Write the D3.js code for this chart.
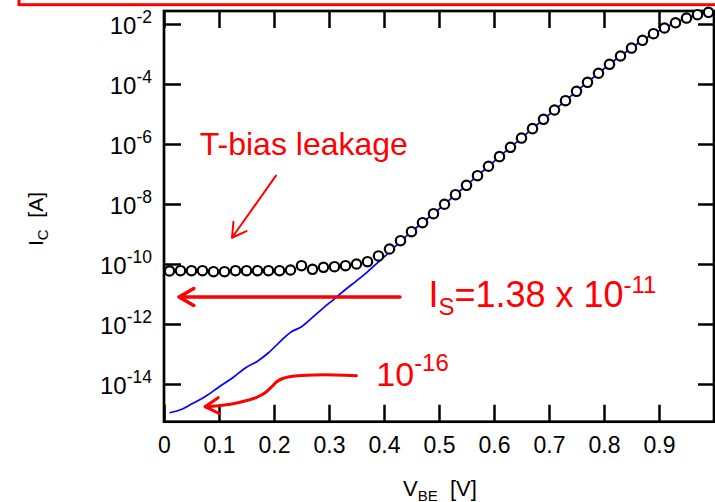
<!DOCTYPE html>
<html>
<head>
<meta charset="utf-8">
<script src="https://cdn.jsdelivr.net/npm/d3@7"></script>
<style>
body { margin: 0; background: #fff; }
text { font-family: "Liberation Sans", Arial, sans-serif; }
</style>
</head>
<body>
<div id="chart"></div>
<script>
// measured Ic (circles), one point every 20 mV
var vbeMeas = [0.01, 0.03, 0.05, 0.07, 0.09, 0.11, 0.13, 0.15, 0.17, 0.19,
               0.21, 0.23, 0.25, 0.27, 0.29, 0.31, 0.33, 0.35, 0.37, 0.39,
               0.41, 0.43, 0.45, 0.47, 0.49, 0.51, 0.53, 0.55, 0.57, 0.59,
               0.61, 0.63, 0.65, 0.67, 0.69, 0.71, 0.73, 0.75, 0.77, 0.79,
               0.81, 0.83, 0.85, 0.87, 0.89, 0.91, 0.93, 0.95, 0.97, 0.99];
var icMeas = [5.85e-11, 5.98e-11, 5.98e-11, 5.98e-11, 5.53e-11, 5.53e-11, 5.98e-11, 5.98e-11, 5.98e-11, 5.98e-11,
              5.98e-11, 6.3e-11, 8.77e-11, 6.65e-11, 7.76e-11, 8.13e-11, 8.77e-11, 1.0e-10, 1.19e-10, 1.85e-10,
              3.16e-10, 5.98e-10, 1.19e-9, 2.38e-9, 4.75e-9, 9.8e-9, 2.04e-8, 4.2e-8, 8.77e-8, 1.81e-7,
              3.78e-7, 7.76e-7, 1.58e-6, 3.24e-6, 6.65e-6, 1.36e-5, 2.77e-5, 5.71e-5, 1.14e-4, 2.28e-4,
              4.54e-4, 8.57e-4, 1.58e-3, 2.86e-3, 4.75e-3, 7.36e-3, 1.10e-2, 1.58e-2, 2.04e-2, 2.45e-2];

// leakage-free curve (blue line)
var vbeFit = [0.01, 0.03, 0.05, 0.075, 0.10, 0.125, 0.15, 0.17, 0.19, 0.215,
              0.23, 0.25, 0.27, 0.29, 0.31, 0.33, 0.35, 0.37, 0.39, 0.41,
              0.43, 0.45, 0.47, 0.49, 0.51, 0.53, 0.55, 0.57, 0.59, 0.61,
              0.63, 0.65, 0.67, 0.69, 0.71, 0.73, 0.75, 0.77, 0.79, 0.81,
              0.83, 0.85, 0.87, 0.89, 0.91, 0.93, 0.95, 0.97, 0.99];
var icFit = [1.10e-15, 1.38e-15, 2.14e-15, 3.80e-15, 7.94e-15, 1.62e-14, 3.63e-14, 5.75e-14, 1.10e-13, 3.02e-13,
             5.25e-13, 8.13e-13, 1.66e-12, 3.47e-12, 6.92e-12, 1.41e-11, 2.75e-11, 5.50e-11, 1.17e-10, 2.51e-10,
             5.62e-10, 1.19e-9, 2.38e-9, 4.75e-9, 9.8e-9, 2.04e-8, 4.2e-8, 8.77e-8, 1.81e-7, 3.78e-7,
             7.76e-7, 1.58e-6, 3.24e-6, 6.65e-6, 1.36e-5, 2.77e-5, 5.71e-5, 1.14e-4, 2.28e-4, 4.54e-4,
             8.57e-4, 1.58e-3, 2.86e-3, 4.75e-3, 7.36e-3, 1.10e-2, 1.58e-2, 2.04e-2, 2.45e-2];

// ticks
var xTicks = [0, 0.1, 0.2, 0.3, 0.4, 0.5, 0.6, 0.7, 0.8, 0.9, 1];
var xTickLabels = ["0", "0.1", "0.2", "0.3", "0.4", "0.5", "0.6", "0.7", "0.8", "0.9", ""];
var yTicks = [1e-2, 1e-4, 1e-6, 1e-8, 1e-10, 1e-12, 1e-14];
var yTickExp = ["-2", "-4", "-6", "-8", "-10", "-12", "-14"];

// curved arrow pointing at the 1e-16 level (V, I)
var arrowCurveV = [0.352, 0.311, 0.2745, 0.238, 0.217, 0.205, 0.196, 0.184, 0.1685, 0.147, 0.123, 0.099, 0.0745];
var arrowCurveI = [1.89e-14, 2.0e-14, 2.0e-14, 1.85e-14, 1.55e-14, 1.19e-14, 8.13e-15, 5.13e-15, 3.6e-15, 2.71e-15, 2.15e-15, 1.89e-15, 1.75e-15];

var W = 715, H = 502;
var RED = "#ff0000";

var svg = d3.select("#chart").append("svg")
    .attr("width", W)
    .attr("height", H);

svg.append("rect").attr("width", W).attr("height", H).attr("fill", "#fff");

var x = d3.scaleLinear().domain([0, 1]).range([164, 714]);
var y = d3.scaleLog().domain([Math.pow(10, -15.257), Math.pow(10, -1.567)]).range([421.7, 11]);

// axes, ticks pointing inwards on all four sides
function styleAxis(g) {
    g.select(".domain").remove();
    g.selectAll(".tick line").attr("stroke", "#000").attr("stroke-width", 2.5);
}

svg.append("g")
    .attr("transform", "translate(0,421.7)")
    .call(d3.axisBottom(x).tickValues(xTicks).tickSize(-17).tickSizeOuter(0).tickPadding(14.5)
        .tickFormat(function(d, i) { return xTickLabels[i]; }))
    .call(styleAxis)
    .call(function(g) {
        g.selectAll(".tick text").attr("font-size", 23).attr("fill", "#000")
            .attr("font-family", "Liberation Sans, Arial, sans-serif");
    });

svg.append("g")
    .attr("transform", "translate(0,11)")
    .call(d3.axisTop(x).tickValues(xTicks).tickSize(-17).tickFormat(""))
    .call(styleAxis);

svg.append("g")
    .attr("transform", "translate(164,0)")
    .call(d3.axisLeft(y).tickValues(yTicks).tickSize(-17).tickFormat(""))
    .call(styleAxis);

svg.append("g")
    .attr("transform", "translate(714,0)")
    .call(d3.axisRight(y).tickValues(yTicks).tickSize(-16).tickFormat(""))
    .call(styleAxis);

// y tick labels as 10^n
yTicks.forEach(function(t, i) {
    var lab = svg.append("text")
        .attr("x", 152)
        .attr("y", y(t) + 10)
        .attr("text-anchor", "end")
        .attr("fill", "#000");
    lab.append("tspan").attr("font-size", 24).text("10");
    lab.append("tspan").attr("font-size", 17.5).attr("dy", -11).text(yTickExp[i]);
});

// frame
svg.append("rect")
    .attr("x", x(0)).attr("y", y.range()[1])
    .attr("width", x(1) - x(0)).attr("height", y.range()[0] - y.range()[1])
    .attr("fill", "none").attr("stroke", "#000").attr("stroke-width", 2.7);

// axis titles
var yt = svg.append("text")
    .attr("transform", "translate(42.5,246) rotate(-90)")
    .attr("text-anchor", "start")
    .attr("font-size", 21)
    .attr("fill", "#000")
    .style("white-space", "pre");
yt.append("tspan").text("I");
yt.append("tspan").attr("font-size", 15).attr("dy", 5).text("C");
yt.append("tspan").attr("dy", -5).text("  [A]");

var xt = svg.append("text")
    .attr("x", 440).attr("y", 496)
    .attr("text-anchor", "middle")
    .attr("font-size", 22)
    .attr("fill", "#000")
    .style("white-space", "pre");
xt.append("tspan").text("V");
xt.append("tspan").attr("font-size", 15).attr("dy", 5).text("BE");
xt.append("tspan").attr("dy", -5).text("  [V]");

// blue line
var fit = vbeFit.map(function(v, i) { return [v, icFit[i]]; });
svg.append("path")
    .datum(fit)
    .attr("fill", "none")
    .attr("stroke", "#0000ff")
    .attr("stroke-width", 1.7)
    .attr("d", d3.line()
        .x(function(d) { return x(d[0]); })
        .y(function(d) { return y(d[1]); })
        .curve(d3.curveMonotoneX));

// circles
var meas = vbeMeas.map(function(v, i) { return [v, icMeas[i]]; });
svg.selectAll("circle.meas").data(meas).enter().append("circle")
    .attr("class", "meas")
    .attr("cx", function(d) { return x(d[0]); })
    .attr("cy", function(d) { return y(d[1]); })
    .attr("r", 4.7)
    .attr("fill", "#fff")
    .attr("stroke", "#000")
    .attr("stroke-width", 2.2);

// ---- red annotations ----
// arrow head: open V, two arms back from the tip
function arrowHead(tx, ty, fx, fy, len, ang) {
    var a = Math.atan2(fy - ty, fx - tx);
    var p1 = [tx + len * Math.cos(a - ang), ty + len * Math.sin(a - ang)];
    var p2 = [tx + len * Math.cos(a + ang), ty + len * Math.sin(a + ang)];
    return "M" + p1 + "L" + tx + "," + ty + "L" + p2;
}

function arrow(v1, i1, v2, i2, w, len) {
    var x1 = x(v1), y1 = y(i1), x2 = x(v2), y2 = y(i2);
    svg.append("path")
        .attr("d", "M" + x1 + "," + y1 + "L" + x2 + "," + y2 + arrowHead(x2, y2, x1, y1, len, Math.PI / 6))
        .attr("fill", "none").attr("stroke", RED).attr("stroke-width", w)
        .attr("stroke-linecap", "round").attr("stroke-linejoin", "round");
}

// frame cut at the top of the page
svg.append("rect")
    .attr("x", 19).attr("y", -30).attr("width", 800).attr("height", 34.7)
    .attr("fill", "none").attr("stroke", RED).attr("stroke-width", 3);

svg.append("text")
    .attr("x", x(0.065)).attr("y", y(4.3e-7))
    .attr("font-size", 32).attr("fill", RED)
    .text("T-bias leakage");
arrow(0.2036, 8.8e-8, 0.1236, 7.5e-10, 2, 16);

arrow(0.429, 7.94e-12, 0.0273, 7.94e-12, 3.5, 17);
var ist = svg.append("text")
    .attr("x", x(0.4807)).attr("y", y(3.78e-12))
    .attr("font-size", 36).attr("fill", RED);
ist.append("tspan").text("I");
ist.append("tspan").attr("font-size", 24).attr("dy", 8).text("S");
ist.append("tspan").attr("dy", -8).text("=1.38 x 10");
ist.append("tspan").attr("font-size", 24).attr("dy", -14).text("-11");

var et = svg.append("text")
    .attr("x", x(0.386)).attr("y", y(8.6e-15))
    .attr("font-size", 34).attr("fill", RED);
et.append("tspan").text("10");
et.append("tspan").attr("font-size", 24).attr("dy", -15).text("-16");

var curvePts = arrowCurveV.map(function(v, i) { return [x(v), y(arrowCurveI[i])]; });
svg.append("path")
    .attr("d", d3.line().curve(d3.curveCatmullRom)(curvePts))
    .attr("fill", "none").attr("stroke", RED).attr("stroke-width", 3);
var n = curvePts.length;
svg.append("path")
    .attr("d", arrowHead(curvePts[n - 1][0], curvePts[n - 1][1], curvePts[n - 2][0], curvePts[n - 2][1], 16, Math.PI / 6))
    .attr("fill", "none").attr("stroke", RED).attr("stroke-width", 3)
    .attr("stroke-linecap", "round").attr("stroke-linejoin", "round");
</script>
</body>
</html>
